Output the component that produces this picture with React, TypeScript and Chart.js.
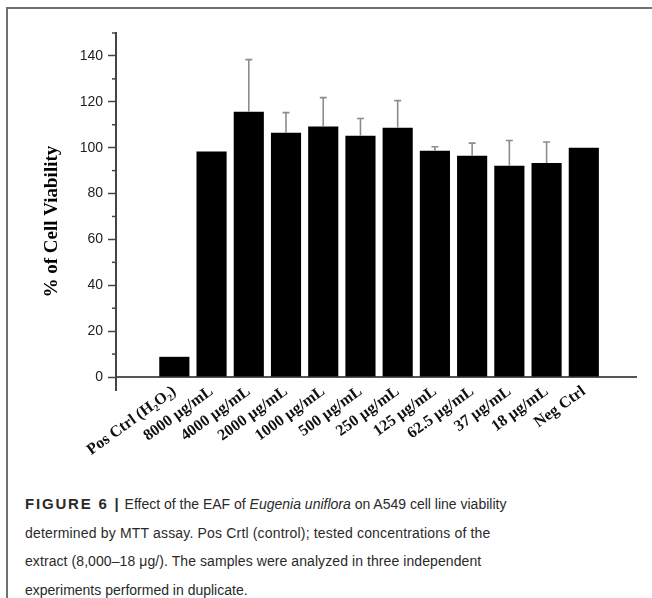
import React, { useEffect, useRef } from "react";
import { Chart, registerables } from "chart.js";

Chart.register(...registerables);

const categories = [
  "Pos Ctrl (H\u2082O\u2082)",
  "8000 \u00b5g/mL",
  "4000 \u00b5g/mL",
  "2000 \u00b5g/mL",
  "1000 \u00b5g/mL",
  "500 \u00b5g/mL",
  "250 \u00b5g/mL",
  "125 \u00b5g/mL",
  "62.5 \u00b5g/mL",
  "37 \u00b5g/mL",
  "18 \u00b5g/mL",
  "Neg Ctrl",
];
const viability = [8.8, 98.3, 115.7, 106.5, 109.2, 105.2, 108.7, 98.7, 96.5, 92.1, 93.3, 100];
const errorUp = [0, 0, 22.7, 8.8, 12.6, 7.5, 11.8, 1.7, 5.5, 11.0, 9.2, 0];
const yMin = 0;
const yMax = 150;
const yStep = 10;
const yLabelStep = 20;
const yTitle = "% of Cell Viability";

const AXIS = "#444";
const ERR = "#8c8c8c";

const extrasPlugin = {
  id: "extras",
  afterDatasetsDraw(chart: any) {
    const { ctx } = chart;
    const meta = chart.getDatasetMeta(0);
    const ys = chart.scales.y;
    ctx.save();
    ctx.strokeStyle = ERR;
    ctx.lineWidth = 1.6;
    meta.data.forEach((bar: any, i: number) => {
      const e = errorUp[i];
      if (!e) return;
      const top = ys.getPixelForValue(viability[i] + e);
      ctx.beginPath();
      ctx.moveTo(bar.x, bar.y);
      ctx.lineTo(bar.x, top);
      ctx.moveTo(bar.x - 3.5, top);
      ctx.lineTo(bar.x + 3.5, top);
      ctx.stroke();
    });
    ctx.restore();
  },
  afterDraw(chart: any) {
    const { ctx, chartArea } = chart;
    const ys = chart.scales.y;
    const x0 = chartArea.left;
    ctx.save();
    ctx.strokeStyle = AXIS;
    ctx.lineWidth = 2;
    ctx.beginPath();
    ctx.moveTo(x0, chartArea.bottom);
    ctx.lineTo(x0, chartArea.bottom + 14);
    ctx.stroke();
    ctx.lineWidth = 1.5;
    ys.ticks.forEach((t: any) => {
      if (t.value % yLabelStep !== 0) {
        const py = ys.getPixelForValue(t.value);
        ctx.beginPath();
        ctx.moveTo(x0 - 4, py);
        ctx.lineTo(x0, py);
        ctx.stroke();
      }
    });
    ctx.restore();
  },
};

function BarChart() {
  const ref = useRef<HTMLCanvasElement | null>(null);
  useEffect(() => {
    if (!ref.current) return;
    const chart = new Chart(ref.current, {
      type: "bar",
      data: {
        datasets: [
          {
            data: viability.map((v, i) => ({ x: i, y: v })),
            backgroundColor: "#000",
            borderWidth: 0,
            barPercentage: 0.81,
            categoryPercentage: 1,
          },
        ],
      },
      plugins: [extrasPlugin],
      options: {
        animation: false,
        responsive: false,
        devicePixelRatio: 1,
        layout: { padding: { top: 33, right: 16, left: 0, bottom: 0 } },
        plugins: { legend: { display: false }, tooltip: { enabled: false } },
        scales: {
          x: {
            type: "linear",
            min: -0.985,
            max: 11.82,
            afterBuildTicks: (s: any) => {
              s.ticks = categories.map((_, i) => ({ value: i }));
            },
            afterFit: (s: any) => {
              s.height = 93;
            },
            grid: { display: false, drawTicks: false },
            border: { display: true, color: "#555", width: 2 },
            ticks: {
              autoSkip: false,
              minRotation: 36,
              maxRotation: 36,
              labelOffset: 0,
              padding: 5,
              color: "#111",
              font: { family: "'Liberation Serif', 'Times New Roman', serif", size: 16, weight: "bold" },
              callback: (v: any) => categories[v as number] ?? "",
            },
          },
          y: {
            min: yMin,
            max: yMax,
            afterFit: (s: any) => {
              s.width = 116;
            },
            ticks: {
              stepSize: yStep,
              autoSkip: false,
              padding: 5,
              color: "#222",
              font: { family: "'Liberation Sans', Arial, sans-serif", size: 14 },
              callback: (v: any) => ((v as number) % yLabelStep === 0 ? String(v) : ""),
            },
            grid: {
              drawOnChartArea: false,
              tickLength: 8,
              tickWidth: 1.5,
              tickColor: (c: any) =>
                c.tick && c.tick.value % yLabelStep === 0 ? AXIS : "rgba(0,0,0,0)",
            },
            border: { display: true, color: AXIS, width: 2 },
            title: {
              display: true,
              text: yTitle + "\u00a0".repeat(7),
              color: "#000",
              font: { family: "'Liberation Serif', 'Times New Roman', serif", size: 19, weight: "bold" },
              padding: { top: 40.6, bottom: 0 },
            },
          },
        },
      } as any,
    });
    return () => chart.destroy();
  }, []);
  return (
    <canvas
      ref={ref}
      width={652}
      height={470}
      style={{ position: "absolute", left: 0, top: 0, width: 652, height: 470 }}
    />
  );
}

export default function App() {
  return (
    <div
      style={{
        position: "fixed",
        left: 0,
        top: 0,
        width: 652,
        height: 598,
        background: "#fff",
        overflow: "hidden",
      }}
    >
      <div
        style={{
          position: "absolute",
          left: 6,
          top: 7,
          right: 0,
          bottom: 0,
          borderTop: "2px solid #707070",
          borderLeft: "2px solid #707070",
        }}
      />
      <BarChart />
      <div
        style={{
          position: "absolute",
          left: 25,
          top: 490,
          font: "14px 'Liberation Sans', Arial, sans-serif",
          lineHeight: "28.7px",
          color: "#2a2a2a",
          whiteSpace: "nowrap",
        }}
      >
        <b style={{ fontSize: 15, letterSpacing: "1.8px" }}>FIGURE 6 |</b>
        <span style={{ marginLeft: 4 }}>Effect of the EAF of </span>
        <i>Eugenia uniflora</i> on A549 cell line viability
        <br />
        <span style={{ letterSpacing: "0.17px" }}>
          determined by MTT assay. Pos Crtl (control); tested concentrations of the
        </span>
        <br />
        <span style={{ letterSpacing: "0.08px" }}>
          extract (8,000–18 μg/). The samples were analyzed in three independent
        </span>
        <br />
        experiments performed in duplicate.
      </div>
    </div>
  );
}
